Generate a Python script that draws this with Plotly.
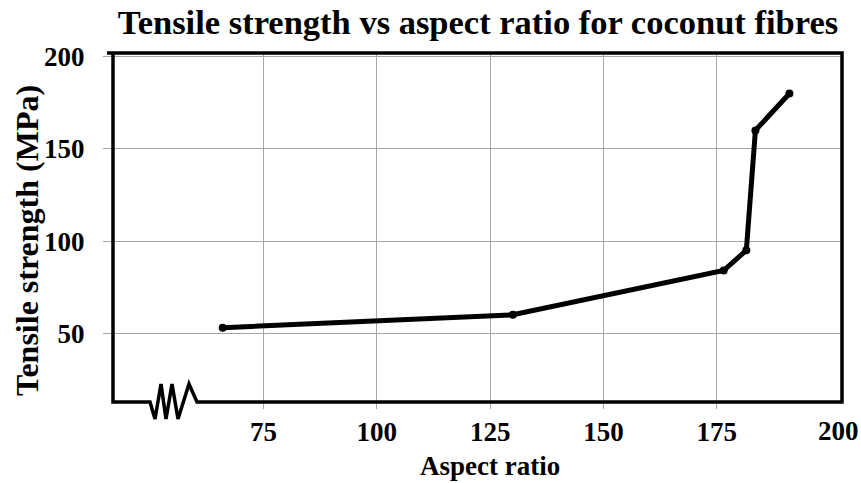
import plotly.graph_objects as go

aspect_ratio = [66, 130, 176.5, 181.5, 183.5, 191]
tensile_strength = [53, 60, 84, 95, 160, 180]
x_ticks = [75, 100, 125, 150, 175]
y_ticks = [50, 100, 150, 200]

W, H = 861, 483
# plot-area edges in pixels
L, R, T, B = 113, 842, 53, 402
FONT = "Liberation Serif"
TICK_SIZE = 27

def px(x):
    return (x - L) / (R - L)

def py(y):
    return (B - y) / (B - T)

fig = go.Figure()
fig.add_trace(go.Scatter(
    x=aspect_ratio, y=tensile_strength, mode="lines+markers",
    line=dict(color="black", width=5),
    marker=dict(color="black", size=8),
    showlegend=False,
))

# frame with axis-break zigzag
pts = [(150, 402), (155, 419), (161, 384), (166, 419), (172, 384), (178, 419), (189, 384), (197, 402)]
path = f"M {px(107)} {py(T)} L {px(R)} {py(T)} L {px(R)} {py(B)} L {px(197)} {py(B)}"
for x, y in reversed(pts):
    path += f" L {px(x)} {py(y)}"
path += f" L {px(L)} {py(B)} L {px(L)} {py(T)}"
fig.add_shape(type="path", xref="paper", yref="paper", path=path,
              line=dict(color="black", width=3.5), layer="above")

fig.add_annotation(text="<b>200</b>", xref="paper", yref="paper",
                   x=px(838), y=py(431), xanchor="center", yanchor="middle",
                   showarrow=False,
                   font=dict(family=FONT, size=TICK_SIZE, color="black"))
fig.add_annotation(text="<b>Aspect ratio</b>", xref="paper", yref="paper",
                   x=px(490), y=py(466), xanchor="center", yanchor="middle",
                   showarrow=False,
                   font=dict(family=FONT, size=TICK_SIZE, color="black"))
fig.add_annotation(text="<b>Tensile strength (MPa)</b>", xref="paper", yref="paper",
                   x=px(27), y=py(241), xanchor="center", yanchor="middle",
                   textangle=-90, showarrow=False,
                   font=dict(family=FONT, size=32, color="black"))

fig.update_layout(
    width=W, height=H,
    margin=dict(l=L, r=W - R, t=T, b=H - B),
    paper_bgcolor="white", plot_bgcolor="white",
    title=dict(text="<b>Tensile strength vs aspect ratio for coconut fibres</b>",
               x=px(478), xanchor="center", y=1 - 22 / H, yanchor="middle",
               xref="paper",
               font=dict(family=FONT, size=34.5, color="black")),
    font=dict(family=FONT, color="black"),
    xaxis=dict(range=[41.8, 202.6], tickvals=x_ticks,
               ticktext=[f"<b>{v}</b>" for v in x_ticks],
               showgrid=True, gridcolor="#a6a6a6", gridwidth=1,
               ticks="outside", ticklen=6, tickcolor="#a6a6a6",
               ticklabelstandoff=0, automargin=False,
               tickfont=dict(family=FONT, size=TICK_SIZE, color="black"),
               zeroline=False, showline=False),
    yaxis=dict(range=[12.7, 202], tickvals=y_ticks,
               ticktext=[f"<b>{v}</b>" for v in y_ticks],
               showgrid=True, gridcolor="#a6a6a6", gridwidth=1,
               ticks="outside", ticklen=9, tickcolor="#a6a6a6",
               ticklabelstandoff=13, automargin=False,
               tickfont=dict(family=FONT, size=TICK_SIZE, color="black"),
               zeroline=False, showline=False),
)

fig.write_html("out.html", config={"displayModeBar": False},
               post_script="document.body.style.margin='0';document.body.style.overflow='hidden';")
